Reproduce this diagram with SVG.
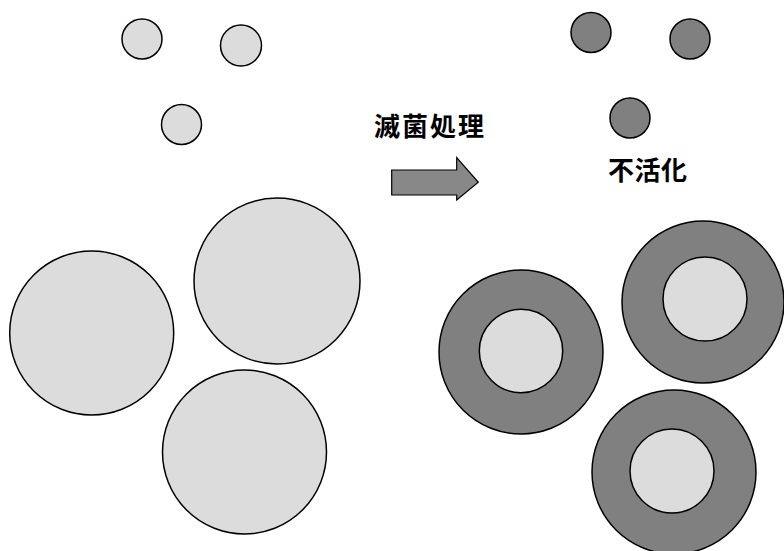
<svg xmlns="http://www.w3.org/2000/svg" width="784" height="551" viewBox="0 0 784 551">
<style>
.l{fill:#dcdcdc;stroke:#000;stroke-width:1.5}
.d{fill:#808080;stroke:#000;stroke-width:1.5}
.t{font-family:"Noto Sans CJK JP","Noto Sans CJK SC",sans-serif;font-weight:bold;font-size:26px;fill:#000}
</style>
<rect width="784" height="551" fill="#fff"/>
<g id="before">
<g id="small-l1"><circle class="l" cx="142" cy="39" r="20"/></g>
<g id="small-l2"><circle class="l" cx="241" cy="45.5" r="20.5"/></g>
<g id="small-l3"><circle class="l" cx="181.5" cy="124.5" r="20"/></g>
<g id="big-l1"><circle class="l" cx="91.7" cy="333" r="82"/></g>
<g id="big-l2"><circle class="l" cx="277" cy="281" r="83"/></g>
<g id="big-l3"><circle class="l" cx="244.5" cy="452" r="82"/></g>
</g>
<g id="process">
<text class="t" x="374" y="136" letter-spacing="2">滅菌処理</text>
<path d="M391.7,170 H456.7 V157.7 L478.3,182.3 L456.7,200 V195 H391.7 Z" fill="#888" stroke="#000" stroke-width="1.2"/>
</g>
<g id="after">
<g id="small-d1"><circle class="d" cx="591" cy="32.5" r="20"/></g>
<g id="small-d2"><circle class="d" cx="690" cy="39" r="20"/></g>
<g id="small-d3"><circle class="d" cx="630" cy="118" r="20"/></g>
<text class="t" x="608" y="180" letter-spacing="0.5">不活化</text>
<g id="ring1"><circle class="d" cx="521" cy="352" r="82"/><circle class="l" cx="521" cy="351" r="41.7"/></g>
<g id="ring2"><circle class="d" cx="703" cy="302" r="81"/><circle class="l" cx="705" cy="299" r="42"/></g>
<g id="ring3"><circle class="d" cx="674" cy="472" r="82"/><circle class="l" cx="672" cy="471" r="42"/></g>
</g>
</svg>
